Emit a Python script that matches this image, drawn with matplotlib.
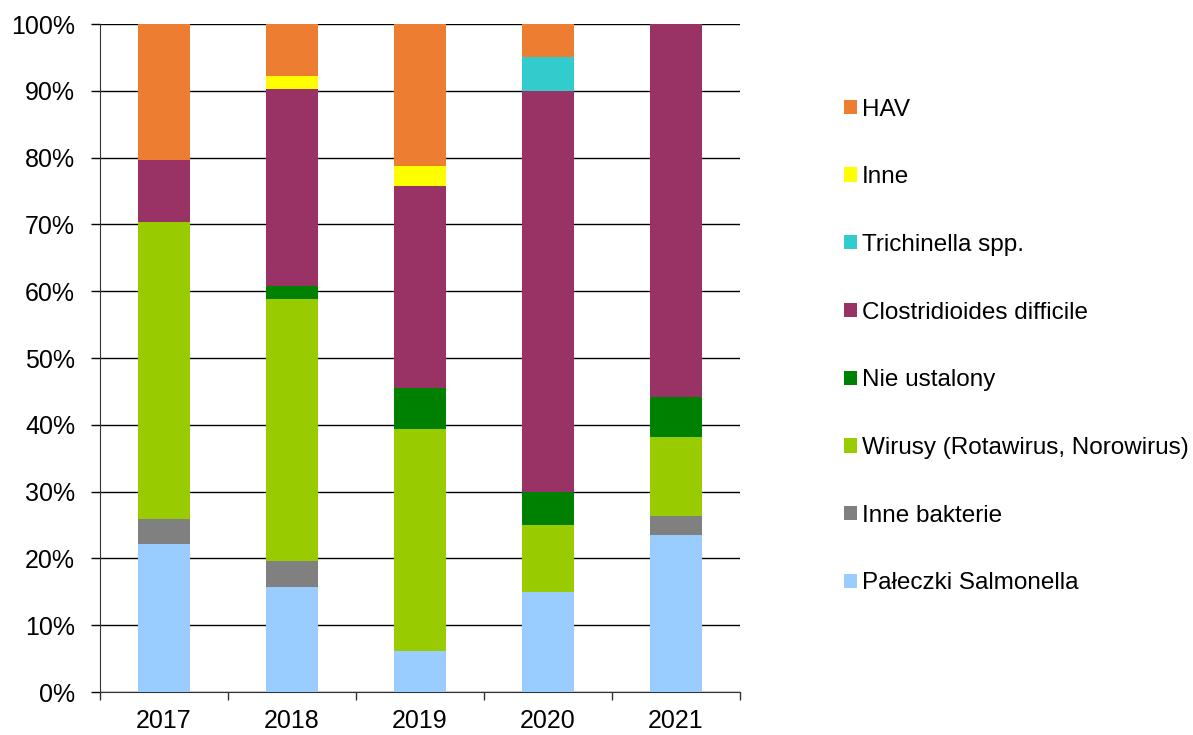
import matplotlib
matplotlib.use("Agg")
import matplotlib.pyplot as plt
import numpy as np
from matplotlib.patches import Patch

plt.rcParams['font.family'] = ['Liberation Sans', 'DejaVu Sans']

years = ["2017", "2018", "2019", "2020", "2021"]
series_names = ["Pałeczki Salmonella", "Inne bakterie", "Wirusy (Rotawirus, Norowirus)",
                "Nie ustalony", "Clostridioides difficile", "Trichinella spp.", "Inne", "HAV"]
salmonella = [22.2, 15.7, 6.1, 15.0, 23.5]
inne_bakterie = [3.7, 3.9, 0.0, 0.0, 2.9]
wirusy = [44.4, 39.2, 33.3, 10.0, 11.8]
nie_ustalony = [0.0, 2.0, 6.1, 5.0, 5.9]
clostridioides = [9.3, 29.4, 30.3, 60.0, 55.9]
trichinella = [0.0, 0.0, 0.0, 5.0, 0.0]
inne = [0.0, 2.0, 3.0, 0.0, 0.0]
hav = [20.4, 7.8, 21.2, 5.0, 0.0]
colors = ["#99CCFF", "#808080", "#99CC00", "#008000", "#993366", "#33CCCC", "#FFFF00", "#ED7D31"]

data = [salmonella, inne_bakterie, wirusy, nie_ustalony, clostridioides, trichinella, inne, hav]

fig = plt.figure(figsize=(11.93, 7.35), dpi=100)
ax = fig.add_axes([100/1193, 1-692/735, 640/1193, 668/735])

x = np.arange(len(years))
bottom = np.zeros(len(years))
for vals, c in zip(data, colors):
    v = np.array(vals)
    ax.bar(x, v, 0.4, bottom=bottom, color=c, edgecolor='none', zorder=3)
    bottom += v

FS = 18
ax.set_xlim(-0.5, len(years) - 0.5)
ax.set_ylim(0, 100)
ax.set_yticks(np.arange(0, 101, 10))
ax.set_yticklabels([f"{v}%" for v in range(0, 101, 10)])
ax.yaxis.grid(True, color='black', linewidth=1.0, zorder=0)
ax.set_axisbelow(True)

ax.set_xticks(x)
ax.set_xticklabels(years)
ax.set_xticks(np.arange(-0.5, len(years), 1.0), minor=True)
ax.tick_params(axis='x', which='major', length=0, labelsize=FS, pad=12.5)
ax.tick_params(axis='x', which='minor', length=5.5, color='#333333', width=1)
ax.tick_params(axis='y', length=6.5, labelsize=FS, color='black', width=1, pad=11.5)

for s in ['top', 'right']:
    ax.spines[s].set_visible(False)
ax.spines['left'].set_color('#333333')
ax.spines['bottom'].set_color('#333333')

handles = [Patch(facecolor=c, edgecolor='none') for c in colors][::-1]
labels = series_names[::-1]
fig.legend(handles, labels, loc='upper left', bbox_to_anchor=(844/1193, 1-98.5/735),
           frameon=False, fontsize=17.5, handlelength=0.53, handleheight=0.53,
           handletextpad=0.2, labelspacing=1.88, borderaxespad=0, borderpad=0)

fig.savefig("out.png", dpi=100)
